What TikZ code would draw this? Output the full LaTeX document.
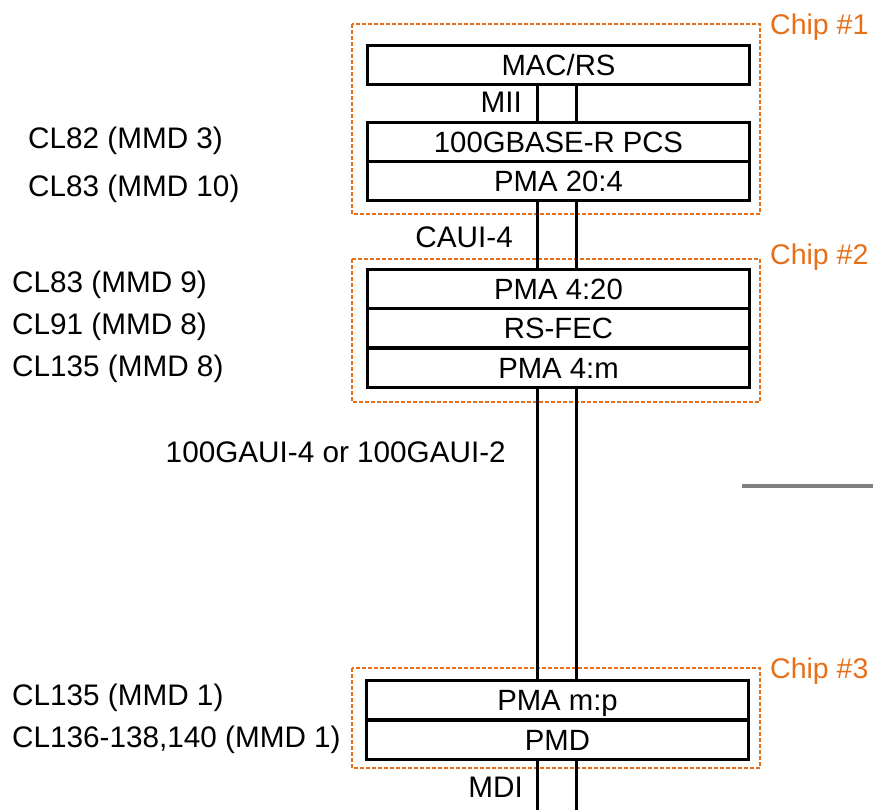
\documentclass[tikz,border=0pt]{standalone}
\usepackage{fontspec}
\setmainfont{Liberation Sans}
\definecolor{chiporange}{RGB}{230,112,25}
\definecolor{rulegray}{RGB}{128,128,128}
\begin{document}
\begin{tikzpicture}[x=1pt,y=-1pt,
  layer/.style={draw=black, line width=3pt, minimum width=382pt, minimum height=39pt,
    inner sep=0pt, text height=21pt, text depth=0pt, anchor=north west,
    font=\fontsize{29.3}{34}\selectfont},
  chipbox/.style={draw=chiporange, line width=1.3pt, dash pattern=on 4pt off 2pt},
  link/.style={draw=black, line width=3pt},
  lbl/.style={anchor=base west, inner sep=0pt, font=\fontsize{29.7}{34}\selectfont},
  lblr/.style={anchor=base east, inner sep=0pt, font=\fontsize{29.7}{34}\selectfont},
  chiplbl/.style={anchor=base west, inner sep=0pt, text=chiporange,
    font=\fontsize{28.5}{34}\selectfont}]
  \useasboundingbox (0,0) rectangle (873,810);

  % chip outlines
  \draw[chipbox] (352,24) rectangle (760,214);
  \draw[chipbox] (352,259) rectangle (760,402);
  \draw[chipbox] (352,668) rectangle (760,768);
  \node[chiplbl] (c1) at (770,34.5) {Chip \#1};
  \node[chiplbl] (c2) at (770,264.5) {Chip \#2};
  \node[chiplbl] (c3) at (770,678.5) {Chip \#3};

  % sublayers
  \node[layer] (mac) at (366,44) {MAC/RS};
  \node[layer] (pcs) at (366,121) {100GBASE-R PCS};
  \node[layer] (pmaA) at (366,160) {PMA 20:4};
  \node[layer] (pmaB) at (366,268) {PMA 4:20};
  \node[layer] (fec) at (366,307.5) {RS-FEC};
  \node[layer] (pmaC) at (366,347) {PMA 4:m};
  \node[layer] (pmaD) at (365,679) {PMA m:p};
  \node[layer] (pmd) at (365,718.5) {PMD};

  % interface line pairs
  \coordinate (xl) at (537,0);
  \coordinate (xr) at (576,0);
  \coordinate (mdiL) at (537,812);
  \coordinate (mdiR) at (576,812);
  \foreach \a/\b in {mac/pcs, pmaA/pmaB, pmaC/pmaD}{
    \draw[link] (\a.south -| xl) -- (\b.north -| xl);
    \draw[link] (\a.south -| xr) -- (\b.north -| xr);
  }
  \draw[link] (pmd.south -| xl) -- (mdiL);
  \draw[link] (pmd.south -| xr) -- (mdiR);

  % interface names
  \node[lblr] (mii) at (522,112.5) {MII};
  \node[lblr] (caui) at (513,247.5) {CAUI-4};
  \node[lblr] (gaui) at (506,462.5) {100GAUI-4 or 100GAUI-2};
  \node[lblr] (mdi) at (523,797.5) {MDI};

  % clause references
  \node[lbl] (r1) at (28,148.5) {CL82 (MMD 3)};
  \node[lbl] (r2) at (28,196.5) {CL83 (MMD 10)};
  \node[lbl] (r3) at (12,292.5) {CL83 (MMD 9)};
  \node[lbl] (r4) at (12,334.5) {CL91 (MMD 8)};
  \node[lbl] (r5) at (12,376.5) {CL135 (MMD 8)};
  \node[lbl] (r6) at (12,705.5) {CL135 (MMD 1)};
  \node[lbl] (r7) at (12,747.5) {CL136-138,140 (MMD 1)};

  % separator stub
  \draw[draw=rulegray, line width=4pt] (742,486) -- (873,486);
\end{tikzpicture}
\end{document}
